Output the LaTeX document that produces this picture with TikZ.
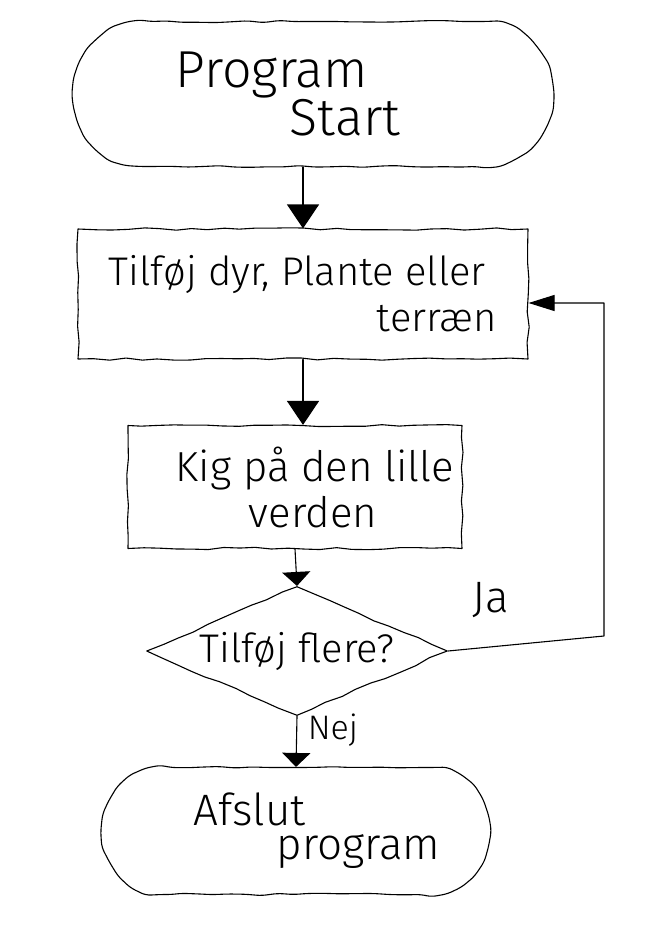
\documentclass[tikz,border=0pt]{standalone}
\usepackage{fontspec}
\setmainfont{Fira Sans}[UprightFont=* Light]
\usetikzlibrary{shapes.geometric,shapes.misc,arrows.meta,decorations.pathmorphing}

\tikzset{
  sketch/.style={draw, line width=1.1pt, decorate,
    decoration={random steps,segment length=16pt,amplitude=1.2pt}},
  terminal/.style={sketch, rounded corners=5pt, rounded rectangle, inner sep=0pt, align=left},
  process/.style={sketch, rectangle, inner sep=0pt, align=left},
  decision/.style={sketch, diamond, aspect=2.33, inner sep=0pt},
  flow/.style={line width=1.1pt, -{Triangle[width=32pt,length=24pt]}},
  shortflow/.style={line width=1.1pt, -{Triangle[width=28pt,length=14pt]}},
  loopflow/.style={line width=1.1pt, -{Triangle[width=16pt,length=26pt]}},
  note/.style={inner sep=0pt, font=\fontsize{44}{46}\selectfont}
}

\begin{document}
\begin{tikzpicture}[x=1pt,y=1pt,line cap=round,line join=round]
  \pgfmathsetseed{11}
  \useasboundingbox (0,0) rectangle (653,-931);
  \fill[white] (0,0) rectangle (653,-931);
  % boxes
  \node[terminal, minimum width=480pt, minimum height=145pt,
    font=\fontsize{52}{48}\selectfont] (start) at (313,-94)
    {Program\\\hspace*{114pt}Start\hspace*{50pt}};
  \node[process, minimum width=450pt, minimum height=130pt,
    font=\fontsize{40}{46}\selectfont] (add) at (303,-294)
    {Tilføj dyr, Plante eller\\\hspace*{268pt}terræn};
  \node[process, minimum width=334pt, minimum height=123pt,
    font=\fontsize{42}{46}\selectfont] (look) at (295,-487)
    {\hspace*{40pt}Kig på den lille\\\hspace*{113pt}verden};
  \node[decision, minimum width=301pt, minimum height=129pt,
    font=\fontsize{40}{44}\selectfont] (more) at (297,-651) {Tilføj flere?};
  \node[terminal, minimum width=387pt, minimum height=127pt,
    font=\fontsize{44}{34}\selectfont] (stop) at (296,-831)
    {\hspace*{42pt}Afslut\\\hspace*{125pt}program};
  % arrows
  \draw[flow] (add.north |- start.south) -- (add.north);
  \draw[flow] (add.south) -- (add.south |- look.north);
  \draw[shortflow] (look.south) -- (more.north);
  \draw[shortflow] (more.south) -- (stop.north);
  % loop back for Ja
  \coordinate (loopbot) at (604,-636);
  \coordinate (looptop) at (604,-303);
  \draw[loopflow] (more.east) -- (loopbot) -- (looptop) -- (add.east |- looptop);
  \node[note] (yes) at (491,-600) {Ja};
  \node[note, font=\fontsize{34}{36}\selectfont] (no) at (333,-730) {Nej};
\end{tikzpicture}
\end{document}
